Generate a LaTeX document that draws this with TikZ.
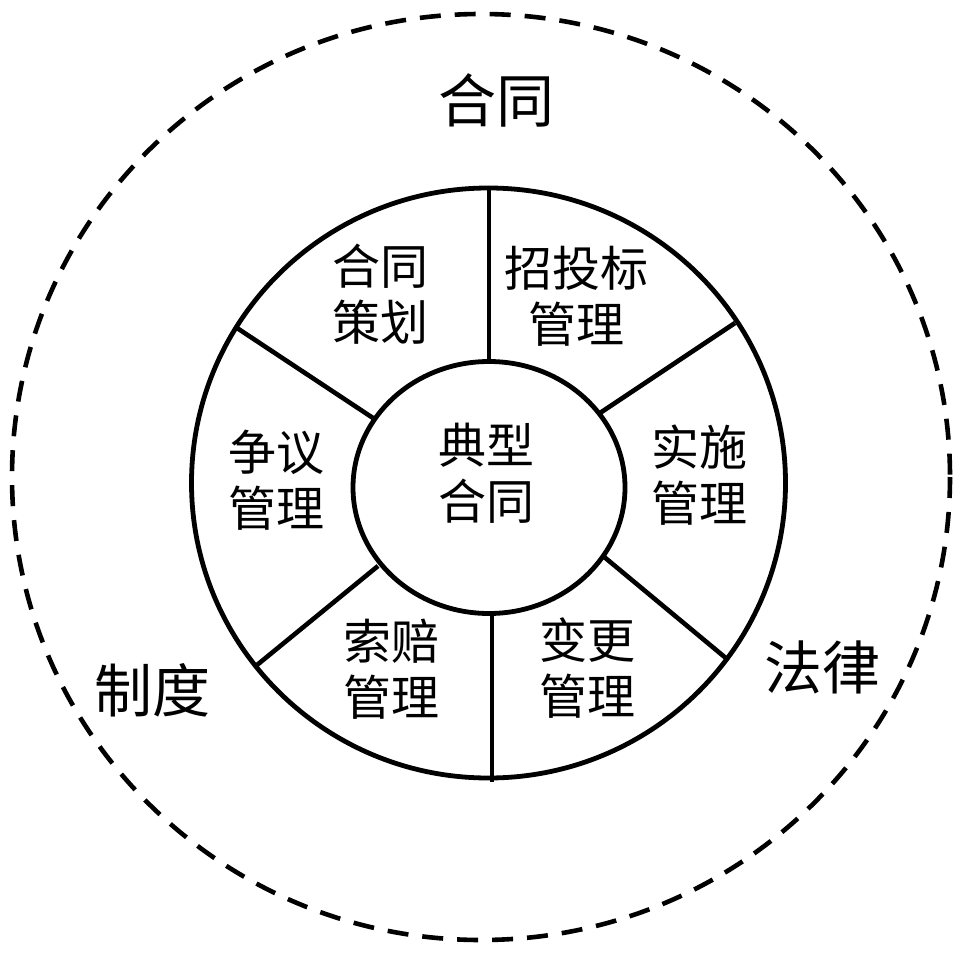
\documentclass[tikz,border=0pt]{standalone}
\usepackage{fontspec}
\newfontfamily\cjk{Noto Sans CJK SC}
\begin{document}
\begin{tikzpicture}[x=1pt,y=-1pt,
  ring/.style={line width=4.8pt},
  spoke/.style={line width=4.6pt},
  outerring/.style={line width=4.6pt, dash pattern=on 21pt off 14pt},
  seglabel/.style={font=\cjk\fontsize{48}{56}\selectfont, align=center, inner sep=0pt},
  biglabel/.style={font=\cjk\fontsize{58}{66}\selectfont, inner sep=0pt}]
\useasboundingbox (0,0) rectangle (963,957);
\fill[white] (0,0) rectangle (963,957);
% outer dashed ring
\draw[outerring] (481,477) ellipse [x radius=469, y radius=463];
% middle ring
\draw[ring] (488.5,483) ellipse [x radius=297, y radius=295];
% inner ring
\draw[ring] (489,487.5) ellipse [x radius=136, y radius=126];
% spokes
\coordinate (t1) at (489,188);  \coordinate (t2) at (489,362);
\coordinate (b1) at (492,613);  \coordinate (b2) at (492,782);
\coordinate (ul1) at (237,328); \coordinate (ul2) at (373,418);
\coordinate (ur1) at (735,323); \coordinate (ur2) at (600,413);
\coordinate (ll1) at (257,665); \coordinate (ll2) at (378,566);
\coordinate (lr1) at (727,659); \coordinate (lr2) at (603,556);
\draw[spoke] (t1) -- (t2);
\draw[spoke] (b1) -- (b2);
\draw[spoke] (ul1) -- (ul2);
\draw[spoke] (ur1) -- (ur2);
\draw[spoke] (ll1) -- (ll2);
\draw[spoke] (lr1) -- (lr2);
% segment labels
\node[seglabel] (center) at (486,473) {典型\\合同};
\node[seglabel] (plan) at (380,294) {合同\\策划};
\node[seglabel] (bid) at (576,296) {招投标\\管理};
\node[seglabel] (impl) at (699,475) {实施\\管理};
\node[seglabel] (change) at (587,668) {变更\\管理};
\node[seglabel] (claim) at (391,669) {索赔\\管理};
\node[seglabel] (dispute) at (276,480) {争议\\管理};
% outer labels
\node[biglabel] (contract) at (496,100) {合同};
\node[biglabel] (system) at (152,690) {制度};
\node[biglabel] (law) at (822,667) {法律};
\end{tikzpicture}
\end{document}
